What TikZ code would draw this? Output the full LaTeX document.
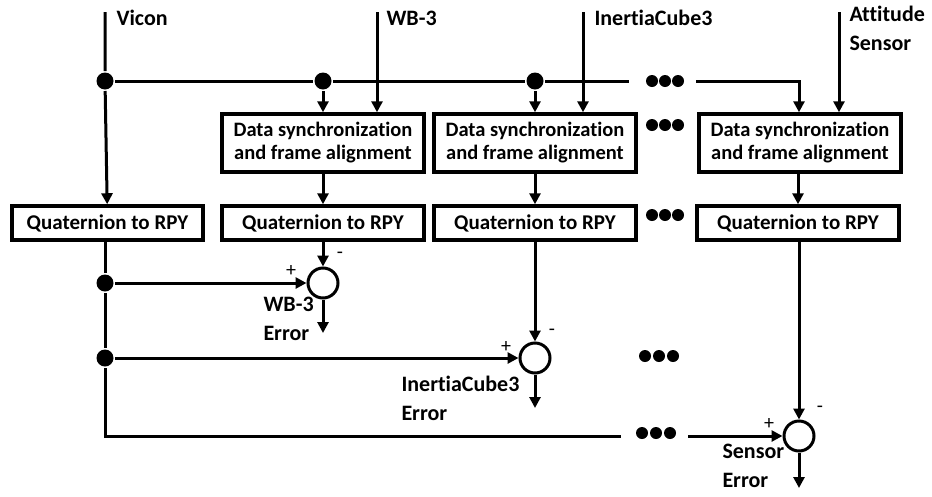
\documentclass[tikz,border=0pt]{standalone}
\usepackage{fontspec}
\setmainfont{Carlito}[Ligatures={TeX,NoCommon}]
\usetikzlibrary{arrows.meta}
\begin{document}
\begin{tikzpicture}[x=1pt,y=-1pt,
  line width=3pt,
  >={Triangle[length=11pt,width=11pt]},
  box/.style={draw, line width=3.5pt, minimum width=202pt, minimum height=58pt, align=center, inner sep=0pt, font=\fontsize{20.5}{23}\selectfont\bfseries},
  qbox/.style={draw, line width=3.5pt, minimum width=202pt, minimum height=34pt, inner sep=0pt, font=\fontsize{21}{23}\selectfont\bfseries},
  junc/.style={circle, fill, inner sep=0pt, minimum size=17pt},
  sumc/.style={circle, draw, line width=3pt, inner sep=0pt, minimum size=30pt},
  lbl/.style={anchor=west, align=left, inner sep=0pt, font=\fontsize{22}{28.5}\selectfont\bfseries},
  sgn/.style={inner sep=0pt, font=\fontsize{20}{20}\selectfont}
]
\useasboundingbox (0,0) rectangle (932,496);

% inputs
\coordinate (vin) at (105,12);
\coordinate (win) at (377,12);
\coordinate (iin) at (583,12);
\coordinate (ain) at (839,12);
\node[lbl] (lv) at (115,18) {Vicon};
\node[lbl] (lw) at (385,18) {WB-3};
\node[lbl] (li) at (593,18) {InertiaCube3};
\node[lbl, anchor=north west] (la) at (848,5) {Attitude\\Sensor};

% boxes
\node[box] (d1) at (323,143) {Data synchronization\\and frame alignment};
\node[box] (d2) at (535,143) {Data synchronization\\and frame alignment};
\node[box] (d3) at (800,143) {Data synchronization\\and frame alignment};
\node[qbox, minimum width=191pt] (q0) at (107.5,223) {Quaternion to RPY};
\node[qbox] (q1) at (323,223) {Quaternion to RPY};
\node[qbox] (q2) at (535,223) {Quaternion to RPY};
\node[qbox] (q3) at (798,223) {Quaternion to RPY};

% junctions
\node[junc] (j0) at (105,81) {};
\node[junc] (j1) at (323,81) {};
\node[junc] (j2) at (535,81) {};
\node[junc] (j3) at (105,283) {};
\node[junc] (j4) at (105,358) {};
\coordinate (busend) at (629,81);
\coordinate (busres) at (696,81);
\coordinate (bl) at (105,436);
\coordinate (blend) at (621,436);
\coordinate (blres) at (688,436);

% sums
\node[sumc] (s1) at (323,283) {};
\node[sumc] (s2) at (535,358) {};
\node[sumc] (s3) at (799,436) {};
\coordinate (o1) at (323,333);
\coordinate (o2) at (535,408);
\coordinate (o3) at (799,488);

% top wiring
\draw[->] (vin) -- (j0) -- (q0);
\draw (j0) -- (j1) -- (j2) -- (busend);
\draw[->] (busres) -| (d3.north -| 799,0);
\draw[->] (win) -- (d1.north -| win);
\draw[->] (j1) -- (d1);
\draw[->] (iin) -- (d2.north -| iin);
\draw[->] (j2) -- (d2);
\draw[->] (ain) -- (d3.north -| ain);
\draw[->] (d1) -- (q1);
\draw[->] (d2) -- (q2);
\draw[->] (d3.south -| q3) -- (q3);

% bottom wiring
\draw (q0.south -| j0) -- (j3) -- (j4) -- (bl) -- (blend);
\draw[->] (blres) -- (s3);
\draw[->] (j3) -- (s1);
\draw[->] (j4) -- (s2);
\draw[->] (q1) -- (s1);
\draw[->] (q2) -- (s2);
\draw[->] (q3.south -| s3) -- (s3);
\draw[->] (s1) -- (o1);
\draw[->] (s2) -- (o2);
\draw[->] (s3) -- (o3);

% signs
\node[sgn] (m1) at (340,255) {-};
\node[sgn] (p1) at (291,271) {+};
\node[sgn] (m2) at (552,332) {-};
\node[sgn] (p2) at (506,347) {+};
\node[sgn] (m3) at (820,409) {-};
\node[sgn] (p3) at (769,424) {+};

% error labels
\node[lbl, anchor=north west] (e1) at (262,296) {WB-3\\Error};
\node[lbl, anchor=north west] (e2) at (400,375) {InertiaCube3\\Error};
\node[lbl, anchor=north west] (e3) at (721,443) {Sensor\\Error};

% ellipses
\foreach \y in {81,125,215} {
  \fill (652,\y) circle[radius=6pt] (665,\y) circle[radius=6pt] (678,\y) circle[radius=6pt];
}
\fill (645,356) circle[radius=6pt] (659,356) circle[radius=6pt] (673,356) circle[radius=6pt];
\fill (642,433) circle[radius=6pt] (656,433) circle[radius=6pt] (670,433) circle[radius=6pt];
\end{tikzpicture}
\end{document}
